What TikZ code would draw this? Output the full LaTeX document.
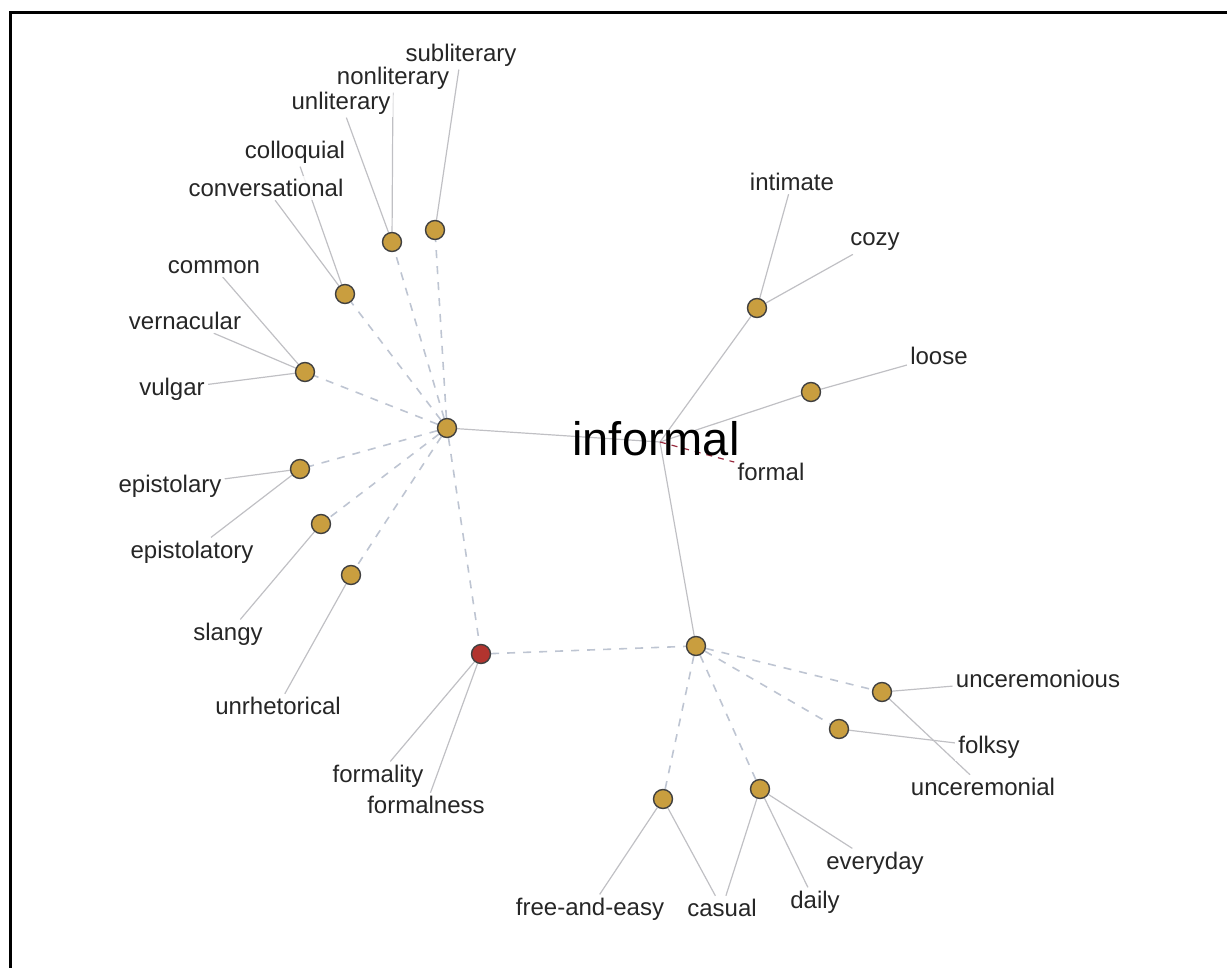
\documentclass[tikz,border=0pt]{standalone}
\usepackage{fontspec}
\setmainfont{Liberation Sans}
\usetikzlibrary{positioning, backgrounds}

\definecolor{gold}{RGB}{201,158,63}
\definecolor{brick}{RGB}{178,52,46}
\definecolor{linkgray}{RGB}{192,192,196}
\definecolor{dashgray}{RGB}{190,197,210}
\definecolor{antired}{RGB}{150,40,60}

\begin{document}
\begin{tikzpicture}[
    x=0.5pt, y=-0.5pt,
    word/.style={fill=white, fill opacity=0.8, text opacity=1, inner sep=1.5pt, text=black!85, font=\fontsize{12}{14}\selectfont},
    headword/.style={inner sep=0pt, font=\fontsize{23.5}{28}\selectfont},
    sense/.style={circle, draw=black!75, line width=0.7pt, fill=gold, minimum size=9.5pt, inner sep=0pt},
    rootsense/.style={sense, fill=brick},
    synlink/.style={draw=linkgray, line width=0.6pt},
    simlink/.style={draw=dashgray, line width=0.8pt, dash pattern=on 4pt off 4pt},
    antlink/.style={draw=antired, line width=0.6pt, dash pattern=on 3pt off 3pt}
]
\useasboundingbox (0,0) rectangle (1227,968);
\draw[line width=1.5pt] (10,968) -- (10,13) -- (1227,13);

% Nodes
\node [headword] (informal) at (656,439) {informal};
\coordinate (core) at (660,442);
\node [sense] (hub-left) at (447,428) {};
\node [rootsense] (formal-sense) at (481,654) {};
\node [sense] (hub-right) at (696,646) {};
\node [sense] (s-nonlit) at (392,242) {};
\node [sense] (s-sublit) at (435,230) {};
\node [sense] (s-colloq) at (345,294) {};
\node [sense] (s-common) at (305,372) {};
\node [sense] (s-epist) at (300,469) {};
\node [sense] (s-slangy) at (321,524) {};
\node [sense] (s-unrhet) at (351,575) {};
\node [sense] (s-intimate) at (757,308) {};
\node [sense] (s-loose) at (811,392) {};
\node [sense] (s-uncere) at (882,692) {};
\node [sense] (s-folksy) at (839,729) {};
\node [sense] (s-easy) at (663,799) {};
\node [sense] (s-casual) at (760,789) {};

% Words
\node [word] (subliterary) at (461,55) {subliterary};
\node [word] (nonliterary) at (393,78) {nonliterary};
\node [word] (unliterary) at (341,103) {unliterary};
\node [word] (colloquial) at (295,152) {colloquial};
\node [word] (conversational) at (266,188) {conversational};
\node [word] (common) at (214,267) {common};
\node [word] (vernacular) at (185,321) {vernacular};
\node [word] (vulgar) at (172,389) {vulgar};
\node [word] (epistolary) at (170,486) {epistolary};
\node [word] (epistolatory) at (192,552) {epistolatory};
\node [word] (slangy) at (228,634) {slangy};
\node [word] (unrhetorical) at (278,706) {unrhetorical};
\node [word] (formality) at (378,776) {formality};
\node [word] (formalness) at (426,805) {formalness};
\node [word] (intimate) at (792,182) {intimate};
\node [word] (cozy) at (875,242) {cozy};
\node [word] (loose) at (939,356) {loose};
\node [word] (formal) at (771,472) {formal};
\node [word] (unceremonious) at (1038,679) {unceremonious};
\node [word] (folksy) at (989,747) {folksy};
\node [word] (unceremonial) at (983,787) {unceremonial};
\node [word] (everyday) at (875,863) {everyday};
\node [word] (daily) at (815,902) {daily};
\node [word] (casual) at (722,908) {casual};
\node [word] (free-and-easy) at (590,909) {free-and-easy};

% Links
\begin{scope}[on background layer]
\draw[simlink] (hub-left) -- (s-nonlit);
\draw[simlink] (hub-left) -- (s-sublit);
\draw[simlink] (hub-left) -- (s-colloq);
\draw[simlink] (hub-left) -- (s-common);
\draw[simlink] (hub-left) -- (s-epist);
\draw[simlink] (hub-left) -- (s-slangy);
\draw[simlink] (hub-left) -- (s-unrhet);
\draw[simlink] (hub-left) -- (formal-sense);
\draw[simlink] (formal-sense) -- (hub-right);
\draw[simlink] (hub-right) -- (s-uncere);
\draw[simlink] (hub-right) -- (s-folksy);
\draw[simlink] (hub-right) -- (s-easy);
\draw[simlink] (hub-right) -- (s-casual);

\draw[synlink] (hub-left) -- (core);
\draw[synlink] (core) -- (s-intimate);
\draw[synlink] (core) -- (s-loose);
\draw[synlink] (core) -- (hub-right);
\draw[antlink] (core) -- (formal);

\draw[synlink] (s-sublit) -- (subliterary);
\draw[synlink] (s-nonlit) -- (nonliterary);
\draw[synlink] (s-nonlit) -- (unliterary);
\draw[synlink] (s-colloq) -- (colloquial);
\draw[synlink] (s-colloq) -- (conversational);
\draw[synlink] (s-common) -- (common);
\draw[synlink] (s-common) -- (vernacular);
\draw[synlink] (s-common) -- (vulgar);
\draw[synlink] (s-epist) -- (epistolary);
\draw[synlink] (s-epist) -- (epistolatory);
\draw[synlink] (s-slangy) -- (slangy);
\draw[synlink] (s-unrhet) -- (unrhetorical);
\draw[synlink] (formal-sense) -- (formality);
\draw[synlink] (formal-sense) -- (formalness);
\draw[synlink] (s-intimate) -- (intimate);
\draw[synlink] (s-intimate) -- (cozy);
\draw[synlink] (s-loose) -- (loose);
\draw[synlink] (s-uncere) -- (unceremonious);
\draw[synlink] (s-uncere) -- (unceremonial);
\draw[synlink] (s-folksy) -- (folksy);
\draw[synlink] (s-easy) -- (free-and-easy);
\draw[synlink] (s-easy) -- (casual);
\draw[synlink] (s-casual) -- (casual);
\draw[synlink] (s-casual) -- (daily);
\draw[synlink] (s-casual) -- (everyday);
\end{scope}
\end{tikzpicture}
\end{document}
